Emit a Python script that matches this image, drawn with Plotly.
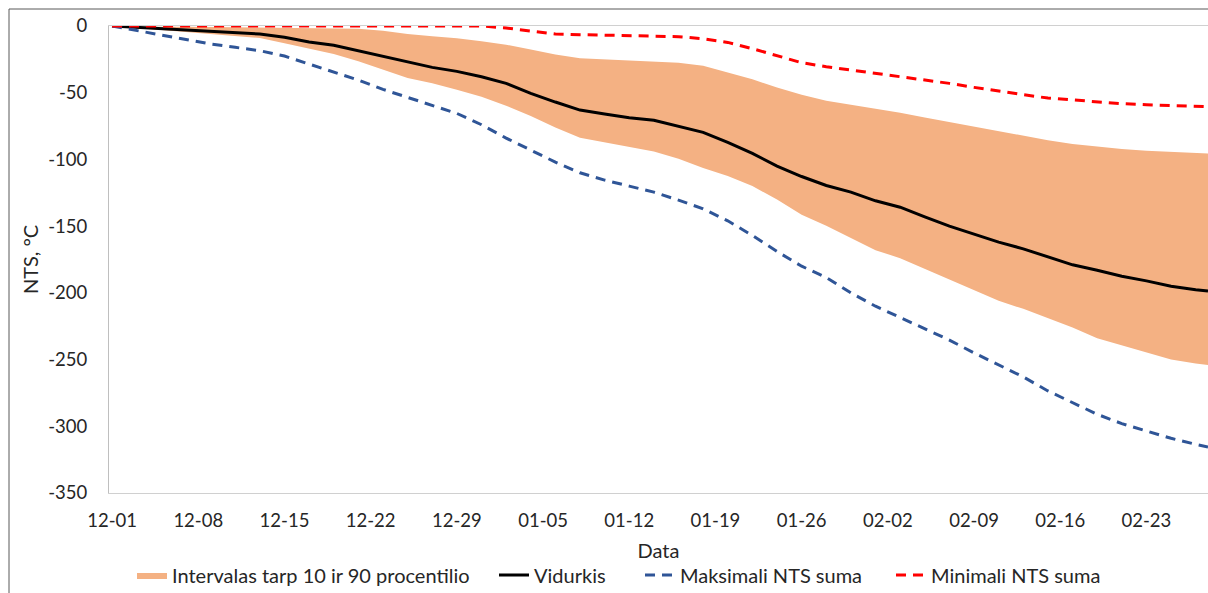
import pandas as pd
import plotly.graph_objects as go

# Day offsets from 12-01 (every 2 days, plus the last day 02-28)
day_offsets = list(range(0, 89, 2)) + [89]
dates = [pd.Timestamp("2018-12-01") + pd.Timedelta(days=d) for d in day_offsets]

mean_vals = [0, -1, -2, -3, -4.5, -5, -6, -8.5, -12, -14.5, -18.5, -22.5, -26.5, -31, -34, -38,
             -43, -50.5, -57, -63, -66, -68.7, -70.7, -75, -79.7, -87.3, -95.5, -105, -112.8,
             -119.5, -124.5, -131, -135.8, -143, -150, -156, -162, -167, -173, -179, -183,
             -187.5, -191, -195, -197.6, -198.6]

p90_vals = [0, -0.5, -0.5, -0.5, -0.7, -1, -1, -1, -1.3, -1.5, -2, -3.5, -6, -7.6, -9.1, -11.5,
            -14, -17.7, -21.4, -24.2, -25, -25.4, -26.3, -27.5, -29.8, -34.7, -40, -46, -51.5,
            -56, -59, -62.3, -65, -68.6, -72, -75.7, -79, -82.4, -85.6, -88.5, -90.4, -92.2,
            -93.5, -94.3, -95.1, -95.5]

p10_vals = [0, -1.5, -3, -4.5, -6, -7.5, -9, -13, -17, -21, -26.5, -33, -39, -43, -47.7, -53,
            -59.7, -67.5, -76, -83.7, -87, -90.5, -94, -99.5, -106.5, -112.5, -120, -130, -141.4,
            -149.7, -159, -168, -174, -182, -190.4, -198, -206, -212, -219, -226, -234, -239.5,
            -245, -250, -253, -254]

max_vals = [0, -3.5, -7, -10, -13.5, -16, -18.5, -22.5, -28.5, -34.5, -40.5, -47.5, -53.5, -59.5,
            -65.5, -74, -84, -93, -102, -110, -115.5, -120, -124.5, -130.5, -137, -146, -157, -169,
            -180, -188.5, -200, -210, -218.5, -227, -235.4, -245, -254, -263, -273.5, -282, -291,
            -298, -303.5, -309, -313.5, -315.5]

min_vals = [0, 0, 0, 0, 0, 0, 0, 0, 0, 0, 0, 0, 0, 0, 0, 0, -1.5, -4, -6, -6.5, -7, -7.3, -7.6,
            -8, -9.5, -12.3, -17, -22, -27.5, -30.5, -33, -35.5, -37.5, -40, -43, -46, -49, -51.5,
            -54, -55.5, -57, -58.2, -59, -59.8, -60.3, -60.5]

y_tick_vals = [0, -50, -100, -150, -200, -250, -300, -350]
y_tick_text = ["0", "-50", "-100", "-150", "-200", "-250", "-300", "-350"]

names = ["Intervalas tarp 10 ir 90 procentilio", "Vidurkis", "Maksimali NTS suma", "Minimali NTS suma"]

FONT = "Lato, 'Liberation Sans', sans-serif"
TXT = "#262626"
LEG_FONT = dict(size=20, color=TXT)

fig = go.Figure()
fig.add_trace(go.Scatter(x=dates, y=p90_vals, mode="lines", line=dict(width=0, color="#F4B183"),
                         showlegend=False, hoverinfo="skip"))
fig.add_trace(go.Scatter(x=dates, y=p10_vals, mode="lines", line=dict(width=0, color="#F4B183"),
                         fill="tonexty", fillcolor="#F4B183", name=names[0], legend="legend"))
fig.add_trace(go.Scatter(x=dates, y=mean_vals, mode="lines", line=dict(color="black", width=3),
                         name=names[1], legend="legend2"))
fig.add_trace(go.Scatter(x=dates, y=max_vals, mode="lines",
                         line=dict(color="#2F5597", width=3, dash="10px,7px"), name=names[2],
                         legend="legend3"))
fig.add_trace(go.Scatter(x=dates, y=min_vals, mode="lines",
                         line=dict(color="#FF0000", width=3, dash="10px,7px"), name=names[3],
                         legend="legend4"))

W, H = 1208, 593
L, T, B = 109, 26, 100
PW = W - L  # plot width (r = 0)


def leg(text_left_px):
    # legend entry text starts ~41 px right of the legend's left edge
    return dict(orientation="h", x=(text_left_px - 41 - L) / PW, xanchor="left",
                y=-0.1756, yanchor="middle", font=LEG_FONT, itemwidth=30,
                bgcolor="rgba(0,0,0,0)")


fig.update_layout(
    width=W, height=H,
    margin=dict(l=L, r=0, t=T, b=B, autoexpand=False),
    paper_bgcolor="white", plot_bgcolor="white",
    font=dict(family=FONT, size=18, color=TXT),
    legend=leg(173), legend2=leg(535), legend3=leg(681), legend4=leg(932),
    shapes=[dict(type="rect", xref="paper", yref="paper",
                 x0=(9 - L) / PW, x1=1.2, y0=-0.4, y1=1 + (T - 9) / (H - T - B),
                 line=dict(color="#595959", width=1), fillcolor="rgba(0,0,0,0)", layer="above")],
)
fig.update_xaxes(
    type="date", range=["2018-11-30 18:00", "2019-02-28 00:00"],
    tick0="2018-12-01", dtick=7 * 86400000, tickformat="%m-%d",
    showgrid=False, showline=True, linecolor="#D0D0D0", linewidth=1, mirror=True,
    ticks="", ticklabelstandoff=11, zeroline=False, automargin=False,
    title=dict(text="Data", font=dict(size=20, color=TXT), standoff=13),
    tickfont=dict(size=18.5, color=TXT),
)
fig.update_yaxes(
    range=[-350, 0], tickvals=y_tick_vals, ticktext=y_tick_text, showgrid=False, zeroline=False,
    showline=True, linecolor="#BFBFBF", linewidth=1, ticks="", ticklabelstandoff=17,
    automargin=False,
    title=dict(text="NTS, °C", font=dict(size=20, color=TXT), standoff=4),
    tickfont=dict(size=18.5, color=TXT),
)

fig.write_html(
    "out.html",
    config={"displayModeBar": False},
    post_script="document.body.style.margin='0px';document.body.style.overflow='hidden';",
)
